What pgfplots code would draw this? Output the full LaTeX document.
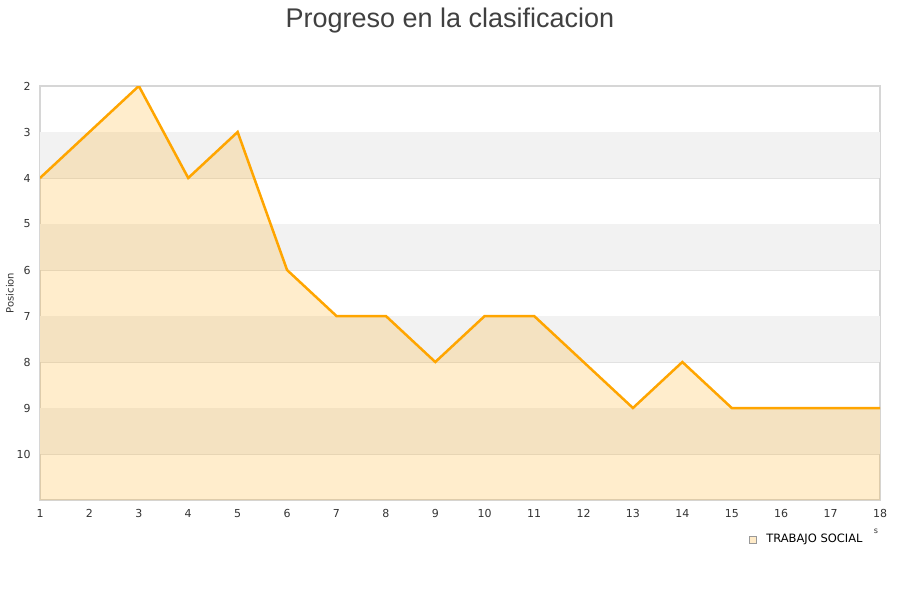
\documentclass[border=0pt]{standalone}
\usepackage{fontspec}
\setmainfont{DejaVu Sans}
\newfontfamily\titlefont{Liberation Sans}
\usepackage{pgfplots}
\pgfplotsset{compat=1.18}
\definecolor{lineorange}{HTML}{FFA500}
\definecolor{bandgray}{HTML}{F2F2F2}
\definecolor{gridgray}{HTML}{E2E2E2}
\definecolor{framegray}{HTML}{D6D6D6}
\definecolor{ticktext}{HTML}{333333}
\definecolor{titletext}{HTML}{404040}
\definecolor{legendfill}{HTML}{FFEBC8}

\begin{document}
\begin{tikzpicture}
\useasboundingbox (0pt,0pt) rectangle (450pt,300pt);
\node[font=\titlefont\fontsize{13.5}{16}\selectfont, text=titletext] at (225pt,289.5pt) {Progreso en la clasificacion};
\node[rotate=90, font=\fontsize{5}{6}\selectfont, text=ticktext] at (5pt,153.5pt) {Posicion};
\begin{axis}[
  at={(20pt,50pt)}, anchor=south west,
  scale only axis, width=420pt, height=207pt,
  xmin=1, xmax=18, ymin=2, ymax=11, y dir=reverse,
  xtick={1,...,18}, ytick={2,...,10},
  xticklabels={1,2,3,4,5,6,7,8,9,10,11,12,13,14,15,16,17,18},
  yticklabels={2,3,4,5,6,7,8,9,10},
  major tick length=0pt,
  ymajorgrids, grid style={draw=gridgray, line width=0.5pt},
  axis line style={draw=framegray, line width=0.6pt},
  tick label style={font=\fontsize{5.5}{6}\selectfont, text=ticktext, inner sep=0pt},
  xticklabel style={anchor=north, yshift=-4.5pt},
  yticklabel style={anchor=east, xshift=-4.5pt},
  legend style={at={(1,0)}, anchor=east, xshift=-3.5pt, yshift=-20pt,
    draw=none, fill=none, font=\fontsize{5.75}{6.5}\selectfont},
]
% alternating background bands
\addplot[draw=none, fill=bandgray, forget plot] coordinates {(1,3) (18,3) (18,4) (1,4)};
\addplot[draw=none, fill=bandgray, forget plot] coordinates {(1,5) (18,5) (18,6) (1,6)};
\addplot[draw=none, fill=bandgray, forget plot] coordinates {(1,7) (18,7) (18,8) (1,8)};
\addplot[draw=none, fill=bandgray, forget plot] coordinates {(1,9) (18,9) (18,10) (1,10)};
% shaded area under the position line
\addplot[draw=none, fill=lineorange, fill opacity=0.2, forget plot] coordinates {
  (1,11) (1,4) (2,3) (3,2) (4,4) (5,3) (6,6) (7,7) (8,7) (9,8)
  (10,7) (11,7) (12,8) (13,9) (14,8) (15,9) (16,9) (17,9) (18,9) (18,11)
};
\addplot[draw=lineorange, line width=1.25pt, forget plot] coordinates {
  (1,4) (2,3) (3,2) (4,4) (5,3) (6,6) (7,7) (8,7) (9,8)
  (10,7) (11,7) (12,8) (13,9) (14,8) (15,9) (16,9) (17,9) (18,9)
};
\addlegendimage{legend image code/.code={\draw[draw=gray!80, fill=legendfill, line width=0.4pt] (0pt,-1.75pt) rectangle (3.5pt,1.75pt); \path[draw=none, fill=none] (0pt,0pt) rectangle (6.5pt,0.1pt);}}
\addlegendentry{TRABAJO SOCIAL}
\end{axis}
\node[font=\fontsize{4}{5}\selectfont, text=ticktext] at (438pt,34.5pt) {s};
\end{tikzpicture}
\end{document}
